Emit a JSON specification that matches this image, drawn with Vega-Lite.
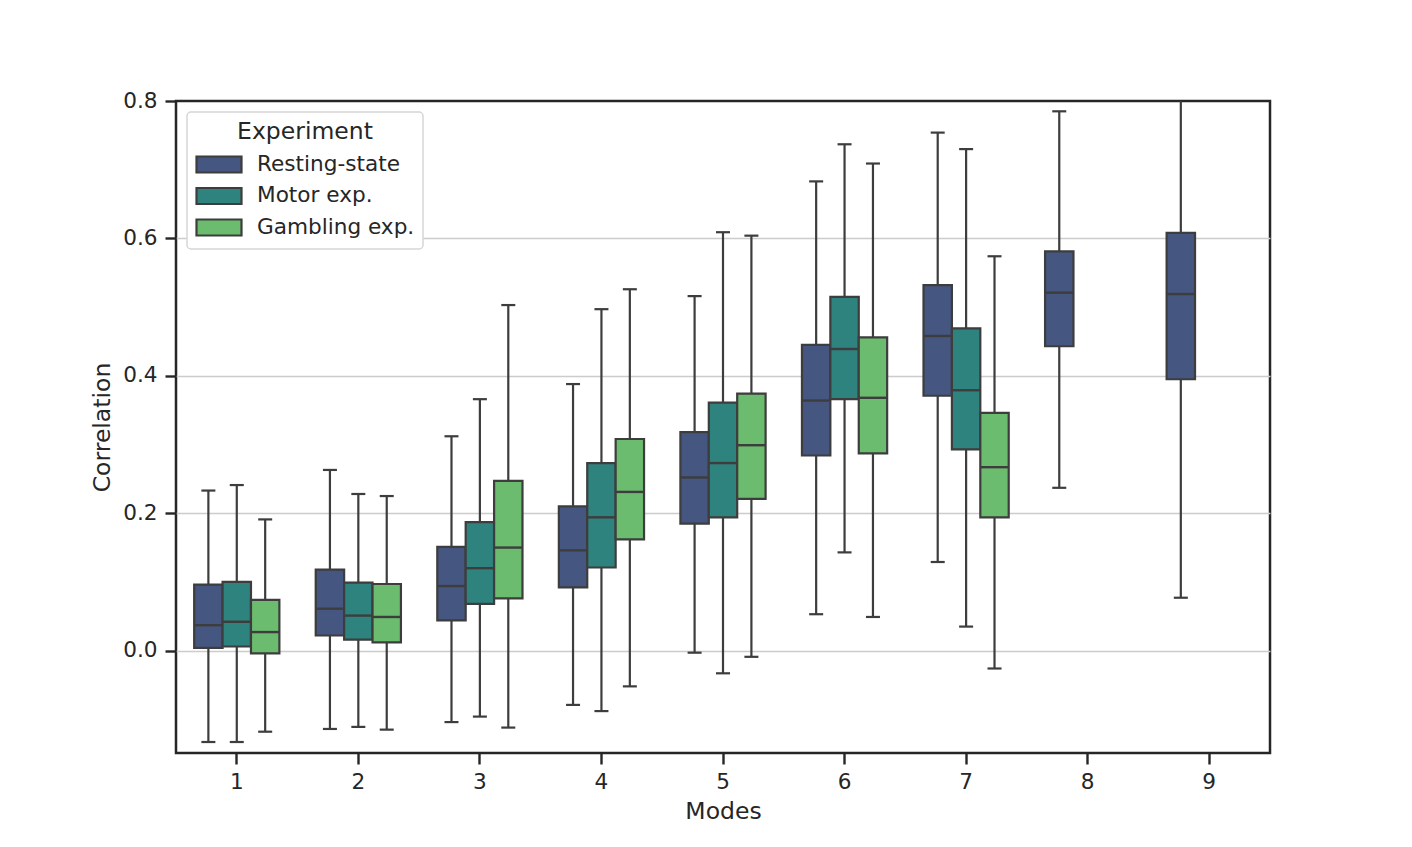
{
  "$schema": "https://vega.github.io/schema/vega-lite/v6.json",
  "width": 1094,
  "height": 652,
  "autosize": {"type": "none"},
  "padding": {"left": 176, "top": 101, "right": 142, "bottom": 94},
  "background": "white",
  "config": {
    "font": "DejaVu Sans",
    "view": {"stroke": "#262626", "strokeWidth": 2.5},
    "axis": {
      "labelFont": "DejaVu Sans",
      "labelFontSize": 21.6,
      "labelColor": "#262626",
      "titleFont": "DejaVu Sans",
      "titleFontSize": 23.5,
      "titleFontWeight": "normal",
      "titleColor": "#262626",
      "tickColor": "#262626",
      "tickWidth": 2.4,
      "tickSize": 11,
      "domain": false,
      "gridWidth": 1.5
    },
    "legend": {
      "orient": "none",
      "legendX": 11,
      "legendY": 11,
      "fillColor": "white",
      "strokeColor": "#d6d6d6",
      "strokeWidth": 1.5,
      "cornerRadius": 4,
      "padding": 8,
      "titleFont": "DejaVu Sans",
      "titleFontSize": 23.5,
      "titleFontWeight": "normal",
      "titleColor": "#262626",
      "titleAnchor": "middle",
      "titlePadding": 8,
      "labelFont": "DejaVu Sans",
      "labelFontSize": 21.6,
      "labelColor": "#262626",
      "labelOffset": 14,
      "symbolType": "M-1,-0.356H1V0.356H-1Z",
      "symbolSize": 2025,
      "symbolStrokeColor": "#3d3d3d",
      "symbolStrokeWidth": 2.2,
      "symbolOpacity": 1,
      "clipHeight": 26,
      "rowPadding": 5.5
    }
  },
  "data": {
    "values": [
      {"mode": 1, "exp": "Resting-state", "lo": -0.133, "q1": 0.004, "med": 0.037, "q3": 0.096, "hi": 0.233},
      {"mode": 1, "exp": "Motor exp.", "lo": -0.133, "q1": 0.006, "med": 0.042, "q3": 0.100, "hi": 0.241},
      {"mode": 1, "exp": "Gambling exp.", "lo": -0.118, "q1": -0.004, "med": 0.027, "q3": 0.074, "hi": 0.191},
      {"mode": 2, "exp": "Resting-state", "lo": -0.114, "q1": 0.022, "med": 0.061, "q3": 0.118, "hi": 0.263},
      {"mode": 2, "exp": "Motor exp.", "lo": -0.111, "q1": 0.016, "med": 0.051, "q3": 0.099, "hi": 0.228},
      {"mode": 2, "exp": "Gambling exp.", "lo": -0.115, "q1": 0.012, "med": 0.049, "q3": 0.097, "hi": 0.225},
      {"mode": 3, "exp": "Resting-state", "lo": -0.104, "q1": 0.044, "med": 0.094, "q3": 0.151, "hi": 0.312},
      {"mode": 3, "exp": "Motor exp.", "lo": -0.096, "q1": 0.068, "med": 0.120, "q3": 0.187, "hi": 0.366},
      {"mode": 3, "exp": "Gambling exp.", "lo": -0.112, "q1": 0.076, "med": 0.150, "q3": 0.247, "hi": 0.503},
      {"mode": 4, "exp": "Resting-state", "lo": -0.079, "q1": 0.092, "med": 0.146, "q3": 0.210, "hi": 0.388},
      {"mode": 4, "exp": "Motor exp.", "lo": -0.088, "q1": 0.121, "med": 0.194, "q3": 0.273, "hi": 0.497},
      {"mode": 4, "exp": "Gambling exp.", "lo": -0.052, "q1": 0.162, "med": 0.231, "q3": 0.308, "hi": 0.526},
      {"mode": 5, "exp": "Resting-state", "lo": -0.003, "q1": 0.185, "med": 0.252, "q3": 0.318, "hi": 0.516},
      {"mode": 5, "exp": "Motor exp.", "lo": -0.033, "q1": 0.194, "med": 0.273, "q3": 0.361, "hi": 0.609},
      {"mode": 5, "exp": "Gambling exp.", "lo": -0.009, "q1": 0.221, "med": 0.299, "q3": 0.374, "hi": 0.604},
      {"mode": 6, "exp": "Resting-state", "lo": 0.053, "q1": 0.284, "med": 0.364, "q3": 0.445, "hi": 0.683},
      {"mode": 6, "exp": "Motor exp.", "lo": 0.143, "q1": 0.366, "med": 0.439, "q3": 0.515, "hi": 0.737},
      {"mode": 6, "exp": "Gambling exp.", "lo": 0.049, "q1": 0.287, "med": 0.368, "q3": 0.456, "hi": 0.709},
      {"mode": 7, "exp": "Resting-state", "lo": 0.129, "q1": 0.371, "med": 0.458, "q3": 0.532, "hi": 0.754},
      {"mode": 7, "exp": "Motor exp.", "lo": 0.035, "q1": 0.293, "med": 0.379, "q3": 0.469, "hi": 0.730},
      {"mode": 7, "exp": "Gambling exp.", "lo": -0.026, "q1": 0.194, "med": 0.267, "q3": 0.346, "hi": 0.574},
      {"mode": 8, "exp": "Resting-state", "lo": 0.237, "q1": 0.443, "med": 0.521, "q3": 0.581, "hi": 0.785},
      {"mode": 9, "exp": "Resting-state", "lo": 0.077, "q1": 0.395, "med": 0.519, "q3": 0.608, "hi": 0.84}
    ]
  },
  "encoding": {
    "x": {
      "field": "mode",
      "type": "ordinal",
      "title": "Modes",
      "scale": {"domain": [1, 2, 3, 4, 5, 6, 7, 8, 9], "paddingInner": 0, "paddingOuter": 0},
      "axis": {"labelAngle": 0, "grid": false, "labelPadding": 7, "titlePadding": 7}
    },
    "xOffset": {
      "field": "exp",
      "type": "nominal",
      "scale": {"domain": ["Resting-state", "Motor exp.", "Gambling exp."], "paddingInner": 0, "paddingOuter": 0.64}
    }
  },
  "layer": [
    {
      "mark": {"type": "rule", "color": "#3d3d3d", "strokeWidth": 2.2, "clip": true},
      "encoding": {
        "y": {
          "field": "lo",
          "type": "quantitative",
          "title": "Correlation",
          "scale": {"domain": [-0.149, 0.8], "nice": false, "zero": false},
          "axis": {
            "values": [0, 0.2, 0.4, 0.6, 0.8],
            "format": ".1f",
            "grid": true,
            "gridColor": {"condition": {"test": "datum.value >= 0.79", "value": "transparent"}, "value": "#cccccc"},
            "labelPadding": 8,
            "titlePadding": 8
          }
        },
        "y2": {"field": "hi"}
      }
    },
    {
      "mark": {"type": "point", "shape": "M-1,0H1", "size": 196, "filled": false, "stroke": "#3d3d3d", "strokeWidth": 2.2, "opacity": 1, "clip": true},
      "encoding": {"y": {"field": "lo", "type": "quantitative", "title": "Correlation"}}
    },
    {
      "mark": {"type": "point", "shape": "M-1,0H1", "size": 196, "filled": false, "stroke": "#3d3d3d", "strokeWidth": 2.2, "opacity": 1, "clip": true},
      "encoding": {"y": {"field": "hi", "type": "quantitative", "title": "Correlation"}}
    },
    {
      "mark": {"type": "bar", "stroke": "#3d3d3d", "strokeWidth": 2.2, "opacity": 1},
      "encoding": {
        "y": {"field": "q1", "type": "quantitative", "title": "Correlation"},
        "y2": {"field": "q3"},
        "fill": {
          "field": "exp",
          "type": "nominal",
          "title": "Experiment",
          "scale": {"domain": ["Resting-state", "Motor exp.", "Gambling exp."], "range": ["#455681", "#2f837f", "#6bbc6e"]}
        }
      }
    },
    {
      "mark": {"type": "point", "shape": "M-1,0H1", "size": 807, "filled": false, "stroke": "#3d3d3d", "strokeWidth": 2.4, "opacity": 1},
      "encoding": {"y": {"field": "med", "type": "quantitative", "title": "Correlation"}}
    }
  ]
}
